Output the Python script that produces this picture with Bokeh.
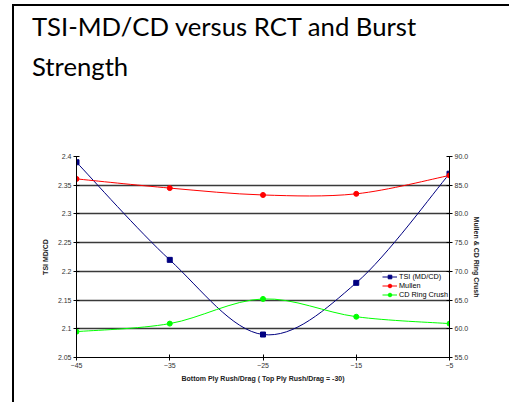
from bokeh.plotting import figure
from bokeh.models import (Range1d, LinearAxis, FixedTicker, Legend, LegendItem,
                          ColumnDataSource, Div)
from bokeh.layouts import column, row
from bokeh.embed import file_html
from bokeh.resources import INLINE

# ---- data ----
x_vals = [-45, -35, -25, -15, -5]
tsi = [2.39, 2.22, 2.09, 2.18, 2.37]
mullen = [86.1, 84.5, 83.3, 83.5, 86.7]
cd_ring = [59.5, 60.9, 65.2, 62.1, 60.9]
left_ticks = [2.05, 2.1, 2.15, 2.2, 2.25, 2.3, 2.35, 2.4]
left_tick_labels = ["2.05", "2.1", "2.15", "2.2", "2.25", "2.3", "2.35", "2.4"]
right_ticks = [55, 60, 65, 70, 75, 80, 85, 90]
x_ticks = [-45, -35, -25, -15, -5]
title_lines = ["TSI-MD/CD versus RCT and Burst", "Strength"]

FONT = "Liberation Sans"

FX, FY = 12, 4          # slide frame corner
OX, OY = 14, 6          # content origin inside the slide frame
DIV_H = 100
FIG_TOP = OY + DIV_H
fl, fr, ft, fb = 76, 449, 156, 357   # plot frame in page pixels
PW = 480
PH = 288

p = figure(width=PW, height=PH, output_backend="svg", toolbar_location=None,
           x_range=Range1d(-45, -5), y_range=Range1d(2.05, 2.4),
           min_border_left=fl - OX, min_border_right=OX + PW - fr,
           min_border_top=ft - FIG_TOP, min_border_bottom=FIG_TOP + PH - fb,
           background_fill_color="white", border_fill_color="white",
           outline_line_color=None, margin=0)
p.extra_y_ranges = {"right": Range1d(55, 90)}


def bez(xs, ys):
    # smoothed curve control points (Catmull-Rom style, as in spreadsheet smoothing)
    n = len(xs)
    out = dict(x0=[], y0=[], x1=[], y1=[], cx0=[], cy0=[], cx1=[], cy1=[])
    for i in range(n - 1):
        p0 = (xs[max(i - 1, 0)], ys[max(i - 1, 0)])
        p1 = (xs[i], ys[i])
        p2 = (xs[i + 1], ys[i + 1])
        p3 = (xs[min(i + 2, n - 1)], ys[min(i + 2, n - 1)])
        out["x0"].append(p1[0]); out["y0"].append(p1[1])
        out["x1"].append(p2[0]); out["y1"].append(p2[1])
        out["cx0"].append(p1[0] + (p2[0] - p0[0]) / 6)
        out["cy0"].append(p1[1] + (p2[1] - p0[1]) / 6)
        out["cx1"].append(p2[0] - (p3[0] - p1[0]) / 6)
        out["cy1"].append(p2[1] - (p3[1] - p1[1]) / 6)
    return ColumnDataSource(out)


# grid
p.xgrid.visible = False
p.ygrid.ticker = FixedTicker(ticks=left_ticks)
p.ygrid.grid_line_color = "#3a3a3a"
p.ygrid.grid_line_width = 1.5

# series
navy, red, green = "#000080", "#FF0000", "#00FF00"
p.bezier("x0", "y0", "x1", "y1", "cx0", "cy0", "cx1", "cy1", source=bez(x_vals, tsi),
         line_color=navy, line_width=1)
r1 = p.scatter(x_vals, tsi, marker="square", size=5, color=navy)
p.bezier("x0", "y0", "x1", "y1", "cx0", "cy0", "cx1", "cy1", source=bez(x_vals, mullen),
         line_color=red, line_width=1, y_range_name="right")
r2 = p.scatter(x_vals, mullen, marker="circle", size=5, color=red, y_range_name="right")
p.bezier("x0", "y0", "x1", "y1", "cx0", "cy0", "cx1", "cy1", source=bez(x_vals, cd_ring),
         line_color=green, line_width=1, y_range_name="right")
r3 = p.scatter(x_vals, cd_ring, marker="circle", size=5, color=green, y_range_name="right")

# legend proxies (line + marker)
l1 = p.line([-45, -45], [0, 0], line_color=navy, line_width=1)
l2 = p.line([-45, -45], [0, 0], line_color=red, line_width=1)
l3 = p.line([-45, -45], [0, 0], line_color=green, line_width=1)
legend = Legend(items=[LegendItem(label="TSI (MD/CD)", renderers=[l1, r1]),
                       LegendItem(label="Mullen", renderers=[l2, r2]),
                       LegendItem(label="CD Ring Crush", renderers=[l3, r3])],
                location=(306, 58), label_text_font=FONT, label_text_font_size="7.3px",
                label_text_color="black", glyph_width=15, glyph_height=9,
                label_height=9, label_standoff=2, spacing=0, padding=1, margin=0,
                border_line_color=None, background_fill_color="white",
                background_fill_alpha=1.0)
p.add_layout(legend, "center")

# axes
def style_axis(ax):
    ax.axis_line_color = "black"
    ax.axis_line_width = 1
    ax.major_tick_line_color = "black"
    ax.major_tick_in = 3
    ax.major_tick_out = 3
    ax.minor_tick_line_color = None
    ax.major_label_text_font = FONT
    ax.major_label_text_font_size = "7px"
    ax.major_label_text_color = "#333333"
    ax.major_label_standoff = 2
    ax.axis_label_text_font = FONT
    ax.axis_label_text_font_size = "7px"
    ax.axis_label_text_font_style = "bold"
    ax.axis_label_text_color = "#222222"

ya = p.yaxis[0]
ya.ticker = FixedTicker(ticks=left_ticks)
ya.major_label_overrides = {t: s for t, s in zip(left_ticks, left_tick_labels)}
ya.axis_label = "TSI MD/CD"
style_axis(ya)
ya.axis_label_standoff = 6

xa = p.xaxis[0]
xa.ticker = FixedTicker(ticks=x_ticks)
xa.axis_label = "Bottom Ply Rush/Drag ( Top Ply Rush/Drag = -30)"
style_axis(xa)
xa.axis_label_standoff = 4

ra = LinearAxis(y_range_name="right", ticker=FixedTicker(ticks=right_ticks),
                axis_label="Mullen & CD Ring Crush")
ra.major_label_overrides = {t: f"{t:.1f}" for t in right_ticks}
style_axis(ra)
ra.axis_label_standoff = 2
p.add_layout(ra, "right")

# slide title
html = ('<div style="font-family: Lato; font-size: 25.7px; color: black; '
        'line-height: 40px; padding-left: 18px; margin-top: 0px; white-space: nowrap;">'
        + "<br>".join(title_lines) + '</div>')
title = Div(text=html, width=PW, height=DIV_H, margin=0)

# slide frame edges (left and top, the rest lies outside the window)
top_bar = Div(text="", width=509 - FX, height=OY - FY, margin=0,
              styles={"background-color": "black"})
left_bar = Div(text="", width=OX - FX, height=402 - OY, margin=0,
               styles={"background-color": "black"})

layout = column(top_bar,
                row(left_bar, column(title, p, spacing=0), spacing=0),
                spacing=0, margin=(FY, 0, 0, FX))

open("out.html", "w").write(file_html(layout, INLINE))
